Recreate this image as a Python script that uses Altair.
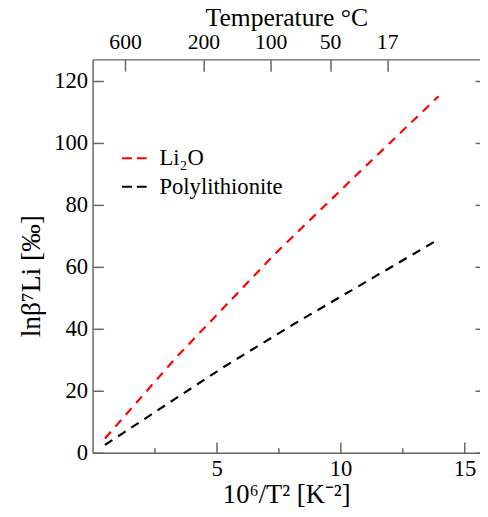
import altair as alt
import pandas as pd

# ---- data ----
series_names = ["Li\u2082O", "Polylithionite"]
x_li2o = [0.5, 3.41, 7.38, 10.5, 13.95]
y_li2o = [4.6, 31.1, 64.4, 88.6, 115.1]
x_poly = [0.5, 3.5, 5.39, 8.13, 13.95]
y_poly = [2.5, 18.3, 28.2, 41.6, 68.9]

x_major = [5, 10, 15]
x_minor = [2.5, 7.5, 12.5]
y_major = [0, 20, 40, 60, 80, 100, 120]
top_temps_c = [600, 200, 100, 50, 17]
top_vals = [1e6 / (t + 273.15) ** 2 for t in top_temps_c]

rows = []
for xs_, ys_, name in [(x_li2o, y_li2o, series_names[0]), (x_poly, y_poly, series_names[1])]:
    for a, b in zip(xs_, ys_):
        rows.append({"x": a, "y": b, "series": name})
df = pd.DataFrame(rows)

FONT = "Liberation Serif"
AX = "#666666"
xs = alt.Scale(domain=[0, 15.62], nice=False, zero=False)
ys = alt.Scale(domain=[0, 127], nice=False, zero=False)

base = alt.Chart(df)

common = dict(grid=False, labelFont=FONT, labelFontSize=23, labelColor="black",
              titleFont=FONT, titleFontWeight="normal",
              titleColor="black", tickColor=AX, tickWidth=1.5)

lines = base.mark_line(strokeDash=[9, 7], strokeWidth=2.2).encode(
    x=alt.X("x:Q", scale=xs, axis=alt.Axis(
        orient="bottom", values=x_major, tickSize=11, offset=-11, domain=False,
        labelPadding=5, title="10\u2076/T\u00b2 [K\u207b\u00b2]", titleFontSize=27,
        titlePadding=2, **common)),
    y=alt.Y("y:Q", scale=ys, axis=alt.Axis(
        orient="left", values=y_major, tickSize=11, offset=-11, domain=False,
        labelPadding=5, title="ln\u03b2\u2077Li [\u2030]", titleFontSize=28,
        titleY=220, titlePadding=8, **common)),
    color=alt.Color("series:N", scale=alt.Scale(domain=series_names, range=["#ff0000", "#000000"]),
                    legend=alt.Legend(title=None, orient="none", legendX=29, legendY=87,
                                      symbolType="stroke", symbolSize=625, symbolStrokeWidth=2,
                                      symbolDash=[10, 5], labelFont=FONT, labelFontSize=23,
                                      labelColor="black", labelOffset=12, rowPadding=3, padding=0)),
    detail="series:N",
)

minor = base.mark_line(strokeOpacity=0).encode(
    x=alt.X("x:Q", scale=xs, axis=alt.Axis(
        orient="bottom", values=x_minor, tickSize=5, offset=-5, domain=False,
        labels=False, title=None, grid=False, tickColor=AX, tickWidth=1.5)),
    y=alt.Y("y:Q", scale=ys, axis=alt.Axis(
        orient="right", values=y_major, tickSize=5, offset=-5, domain=False,
        labels=False, title=None, grid=False, tickColor=AX, tickWidth=1.5)),
    detail="series:N",
)

top = base.mark_line(strokeOpacity=0).encode(
    x=alt.X("x:Q", scale=xs, axis=alt.Axis(
        orient="top", values=top_vals, tickSize=12, offset=-12, domain=False,
        labelPadding=6, labelFontSize=22, labelExpr="format(sqrt(1000000/datum.value)-273.15,'.0f')",
        title="Temperature \u00b0C", titleFontSize=26, titlePadding=0,
        **{k: v for k, v in common.items() if k != "labelFontSize"})),
    y=alt.Y("y:Q", scale=ys, axis=None),
    detail="series:N",
)

frame1 = base.mark_line(strokeOpacity=0).encode(
    x=alt.X("x:Q", scale=xs, axis=alt.Axis(
        orient="bottom", ticks=False, labels=False, title=None, grid=False,
        domain=True, domainColor=AX, domainWidth=1.5)),
    y=alt.Y("y:Q", scale=ys, axis=alt.Axis(
        orient="left", ticks=False, labels=False, title=None, grid=False,
        domain=True, domainColor=AX, domainWidth=1.5)),
    detail="series:N",
)

frame2 = base.mark_line(strokeOpacity=0).encode(
    x=alt.X("x:Q", scale=xs, axis=alt.Axis(
        orient="top", ticks=False, labels=False, title=None, grid=False,
        domain=True, domainColor=AX, domainWidth=1.5)),
    y=alt.Y("y:Q", scale=ys, axis=None),
    detail="series:N",
)

chart = alt.layer(frame1, frame2, minor, top, lines).resolve_axis(
    x="independent", y="independent"
).properties(
    width=394, height=400,
    autosize=alt.AutoSizeParams(type="none"),
    padding={"left": 86, "top": 48, "right": 0, "bottom": 53},
).configure_view(stroke=None)

chart.save("out.html", embed_options={"renderer": "svg", "actions": False})
